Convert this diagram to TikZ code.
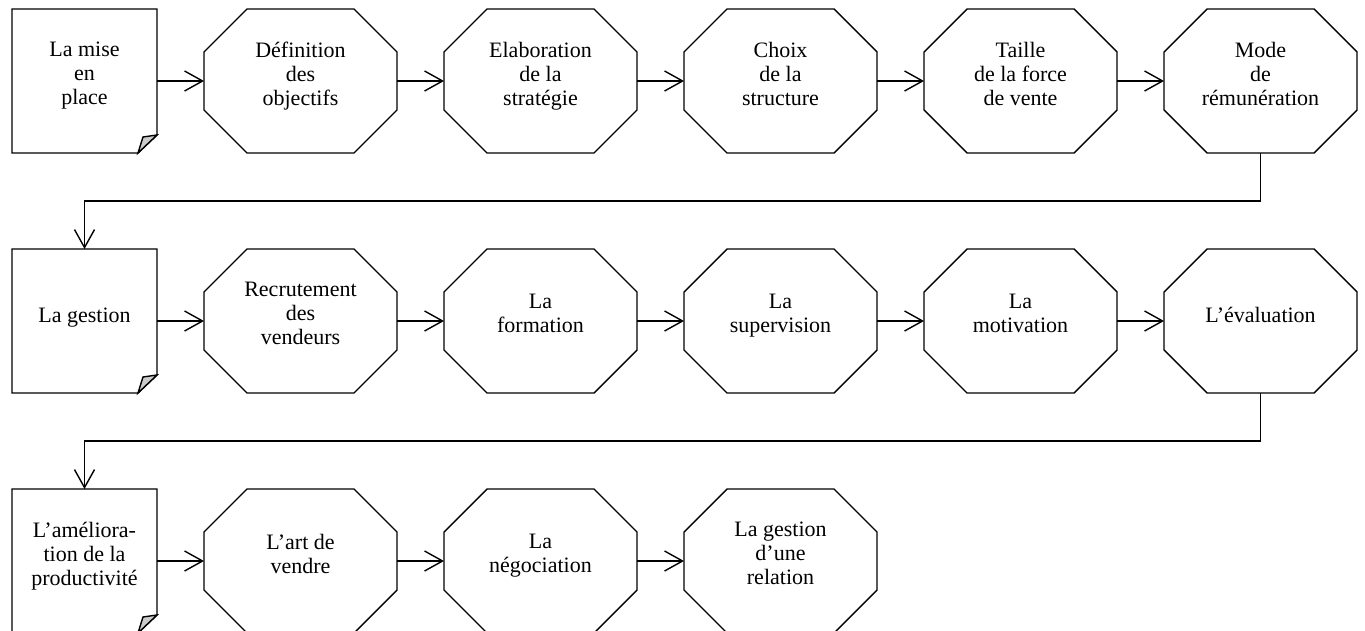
\documentclass[tikz,border=0pt]{standalone}
\usepackage{fontspec}
\setmainfont{Liberation Serif}
\usetikzlibrary{arrows.meta}

\begin{document}
\begin{tikzpicture}[x=0.5pt,y=0.5pt,line width=0.7pt,
    font=\fontsize{11}{12}\selectfont,
    octo/.style={rectangle,minimum width=96.5pt,minimum height=72pt,
      inner sep=0pt,outer sep=0pt,align=center,
      execute at begin node=\rule{0pt}{9pt},execute at end node=\rule[-7.6pt]{0pt}{7.6pt},
      append after command={\pgfextra{\draw[line join=miter]
        ([xshift=21.5pt]\tikzlastnode.north west) -- ([xshift=-21.5pt]\tikzlastnode.north east)
        -- ([yshift=-21.5pt]\tikzlastnode.north east) -- ([yshift=21.5pt]\tikzlastnode.south east)
        -- ([xshift=-21.5pt]\tikzlastnode.south east) -- ([xshift=21.5pt]\tikzlastnode.south west)
        -- ([yshift=21.5pt]\tikzlastnode.south west) -- ([yshift=-21.5pt]\tikzlastnode.north west)
        -- cycle;}}},
    notebox/.style={rectangle,minimum width=72.5pt,minimum height=72pt,
      inner sep=0pt,outer sep=0pt,align=center,
      execute at begin node=\rule{0pt}{9pt},execute at end node=\rule[-7.6pt]{0pt}{7.6pt}},
    arr/.style={-{Straight Barb[length=9pt,width=10pt]}}]
    \useasboundingbox (0,0) rectangle (1365,-631);
    % first row
    \node[notebox] (mise) at (84.5,-81) {La mise\\en\\place};
    \node[octo] (objectifs) at (300.5,-81) {Définition\\des\\objectifs};
    \node[octo] (strategie) at (540.5,-81) {Elaboration\\de la\\stratégie};
    \node[octo] (structure) at (780.5,-81) {Choix\\de la\\structure};
    \node[octo] (taille) at (1020.5,-81) {Taille\\de la force\\de vente};
    \node[octo] (remun) at (1260.5,-81) {Mode\\de\\rémunération};
    % second row
    \node[notebox] (gestion) at (84.5,-321) {La gestion};
    \node[octo] (recrut) at (300.5,-321) {Recrutement\\des\\vendeurs};
    \node[octo] (formation) at (540.5,-321) {La\\formation};
    \node[octo] (supervision) at (780.5,-321) {La\\supervision};
    \node[octo] (motivation) at (1020.5,-321) {La\\motivation};
    \node[octo] (evaluation) at (1260.5,-321) {L’évaluation};
    % third row
    \node[notebox] (amelio) at (84.5,-561) {L’améliora-\\tion de la\\productivité};
    \node[octo] (artvendre) at (300.5,-561) {L’art de\\vendre};
    \node[octo] (nego) at (540.5,-561) {La\\négociation};
    \node[octo] (relation) at (780.5,-561) {La gestion\\d’une\\relation};
    % folded notes
    \draw (mise.north west) -- (mise.north east) -- ([yshift=9pt]mise.south east) -- ([xshift=-9.5pt]mise.south east) -- (mise.south west) -- cycle;
    \filldraw[fill=gray!40] ([xshift=-9.5pt]mise.south east) -- ([shift={(-7pt,8pt)}]mise.south east) -- ([yshift=9pt]mise.south east) -- cycle;
    \draw (gestion.north west) -- (gestion.north east) -- ([yshift=9pt]gestion.south east) -- ([xshift=-9.5pt]gestion.south east) -- (gestion.south west) -- cycle;
    \filldraw[fill=gray!40] ([xshift=-9.5pt]gestion.south east) -- ([shift={(-7pt,8pt)}]gestion.south east) -- ([yshift=9pt]gestion.south east) -- cycle;
    \draw (amelio.north west) -- (amelio.north east) -- ([yshift=9pt]amelio.south east) -- ([xshift=-9.5pt]amelio.south east) -- (amelio.south west) -- cycle;
    \filldraw[fill=gray!40] ([xshift=-9.5pt]amelio.south east) -- ([shift={(-7pt,8pt)}]amelio.south east) -- ([yshift=9pt]amelio.south east) -- cycle;
    % arrows
    \draw[arr] (mise) -- (objectifs);
    \draw[arr] (objectifs) -- (strategie);
    \draw[arr] (strategie) -- (structure);
    \draw[arr] (structure) -- (taille);
    \draw[arr] (taille) -- (remun);
    \draw[arr] (remun.south) -- ++(0,-48) -| (gestion.north);
    \draw[arr] (gestion) -- (recrut);
    \draw[arr] (recrut) -- (formation);
    \draw[arr] (formation) -- (supervision);
    \draw[arr] (supervision) -- (motivation);
    \draw[arr] (motivation) -- (evaluation);
    \draw[arr] (evaluation.south) -- ++(0,-48) -| (amelio.north);
    \draw[arr] (amelio) -- (artvendre);
    \draw[arr] (artvendre) -- (nego);
    \draw[arr] (nego) -- (relation);
\end{tikzpicture}
\end{document}
